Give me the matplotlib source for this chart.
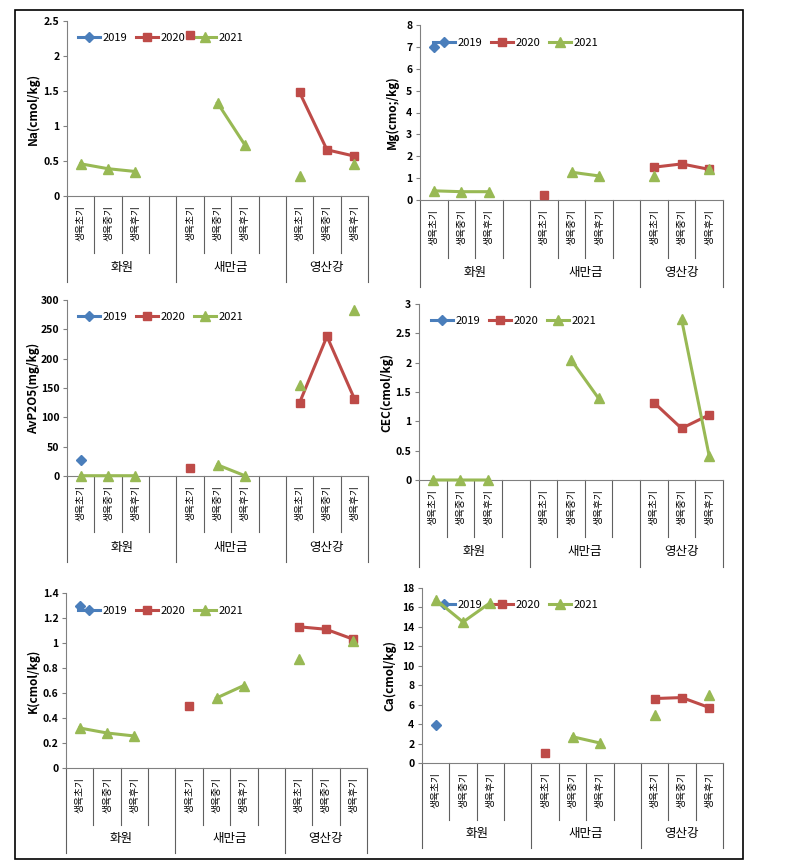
import numpy as np
import matplotlib
matplotlib.use('Agg')
import matplotlib.pyplot as plt
from matplotlib.patches import Rectangle
from matplotlib.ticker import MultipleLocator, FuncFormatter
import matplotlib.transforms as mtransforms

plt.rcParams['font.family'] = ['Noto Sans CJK KR', 'DejaVu Sans']

# 데이터
stages = ['생육초기', '생육중기', '생육후기', '',
          '생육초기', '생육중기', '생육후기', '',
          '생육초기', '생육중기', '생육후기']
groups = ['화원', '새만금', '영산강']
group_bounds = [-0.5, 3.5, 7.5, 10.5]
years = ['2019', '2020', '2021']
nan = np.nan

na_2019 = [nan] * 11
na_2020 = [nan, nan, nan, nan, 2.30, nan, nan, nan, 1.48, 0.66, 0.57]
na_2021 = [0.46, 0.39, 0.35, nan, nan, 1.33, 0.73, nan, 0.28, nan, 0.46]

mg_2019 = [7.0, nan, nan, nan, nan, nan, nan, nan, nan, nan, nan]
mg_2020 = [nan, nan, nan, nan, 0.22, nan, nan, nan, 1.50, 1.65, 1.40]
mg_2021 = [0.42, 0.38, 0.38, nan, nan, 1.27, 1.10, nan, 1.10, nan, 1.40]

p_2019 = [28, nan, nan, nan, nan, nan, nan, nan, nan, nan, nan]
p_2020 = [nan, nan, nan, nan, 14, nan, nan, nan, 125, 238, 132]
p_2021 = [0.5, 0.5, 0.5, nan, nan, 19, 0.5, nan, 155, nan, 283]

cec_2019 = [nan] * 11
cec_2020 = [nan, nan, nan, nan, nan, nan, nan, nan, 1.32, 0.88, 1.11]
cec_2021 = [0.0, 0.0, 0.0, nan, nan, 2.05, 1.39, nan, nan, 2.74, 0.41]

k_2019 = [1.30, nan, nan, nan, nan, nan, nan, nan, nan, nan, nan]
k_2020 = [nan, nan, nan, nan, 0.50, nan, nan, nan, 1.13, 1.11, 1.03]
k_2021 = [0.32, 0.28, 0.256, nan, nan, 0.56, 0.66, nan, 0.875, nan, 1.02]

ca_2019 = [3.9, nan, nan, nan, nan, nan, nan, nan, nan, nan, nan]
ca_2020 = [nan, nan, nan, nan, 1.07, nan, nan, nan, 6.63, 6.73, 5.70]
ca_2021 = [16.8, 14.5, 16.5, nan, nan, 2.7, 2.06, nan, 4.98, nan, 7.04]

# 스타일
colors = ['#4A7EBB', '#BE4B48', '#98B954']
markers = ['D', 's', '^']
msizes = [5, 6, 6.5]

W, H = 788, 864

# (ylabel, data, ymax, step, left, right, top, zero, sep_bot, grp_bot, ylab_x, leg_x, leg_y)
panels = [
    ('Na(cmol/kg)', [na_2019, na_2020, na_2021], 2.5, 0.5,
     67, 368, 21, 196, 253, 282, 33, 78, 38),
    ('Mg(cmo;/kg)', [mg_2019, mg_2020, mg_2021], 8, 1,
     420, 723, 25, 200, 258, 287, 392, 433, 43),
    ('AvP2O5(mg/kg)', [p_2019, p_2020, p_2021], 300, 50,
     67, 368, 300, 476, 532, 562, 33, 78, 317),
    ('CEC(cmol/kg)', [cec_2019, cec_2020, cec_2021], 3, 0.5,
     419, 723, 304, 480, 537, 567, 387, 431, 321),
    ('K(cmol/kg)', [k_2019, k_2020, k_2021], 1.4, 0.2,
     66, 367, 593, 768, 825, 853, 33, 78, 611),
    ('Ca(cmol/kg)', [ca_2019, ca_2020, ca_2021], 18, 2,
     422, 723, 588, 763, 820, 848, 390, 433, 605),
]

fig = plt.figure(figsize=(W / 100, H / 100), dpi=100)

# 외곽 테두리
fig.add_artist(Rectangle((15 / W, 1 - 859 / H), (743 - 15) / W, (859 - 10) / H,
                         transform=fig.transFigure, fill=False, lw=1.2, ec='black'))

x = np.arange(len(stages))

for (ylab, series, ymax, step, l, r, t, z, sb, gb, ylx, lx, ly) in panels:
    ax = fig.add_axes([l / W, 1 - z / H, (r - l) / W, (z - t) / H])
    ph = z - t

    for i, vals in enumerate(series):
        ax.plot(x, vals, color=colors[i], marker=markers[i], markersize=msizes[i],
                lw=2.2, label=years[i], clip_on=False, zorder=3)

    ax.set_xlim(-0.5, 10.5)
    ax.set_ylim(0, ymax)
    ax.yaxis.set_major_locator(MultipleLocator(step))
    ax.yaxis.set_major_formatter(FuncFormatter(lambda v, p: '%g' % round(v, 2)))
    ax.tick_params(axis='y', direction='out', length=3, width=0.8, color='#808080',
                   labelsize=7.5, pad=2.5)
    for lab in ax.get_yticklabels():
        lab.set_fontweight('bold')
    ax.set_xticks([])
    for s in ['top', 'right']:
        ax.spines[s].set_visible(False)
    ax.spines['left'].set_color('#808080')
    ax.spines['bottom'].set_color('#808080')

    # y축 제목
    ax.text((ylx - l) / (r - l), 0.5, ylab, transform=ax.transAxes, rotation=90,
            ha='center', va='center', fontsize=8.5, fontweight='bold')

    # 다단 범주축
    trans = mtransforms.blended_transform_factory(ax.transData, ax.transAxes)
    y_sep = -(sb - z) / ph
    y_grp = -(gb - z) / ph
    for b in np.arange(-0.5, 11, 1.0):
        ybot = y_grp if b in group_bounds else y_sep
        ax.plot([b, b], [0, ybot], transform=trans, color='#606060', lw=0.8,
                clip_on=False)
    for xi, name in zip(x, stages):
        if name:
            ax.text(xi, -9 / ph, name, transform=trans, rotation=90, ha='center',
                    va='top', fontsize=7)
    for gi, g in enumerate(groups):
        xc = (group_bounds[gi] + group_bounds[gi + 1]) / 2
        ax.text(xc, (y_sep + y_grp) / 2, g, transform=trans, ha='center',
                va='center', fontsize=9)

    leg = ax.legend(loc='center left', bbox_to_anchor=((lx - l) / (r - l), (z - ly) / ph),
                    ncol=3, frameon=False, fontsize=8, handlelength=2.0,
                    handletextpad=0.2, columnspacing=0.8, borderaxespad=0,
                    borderpad=0)
    leg.set_zorder(2)

fig.savefig('out.png', dpi=100)
